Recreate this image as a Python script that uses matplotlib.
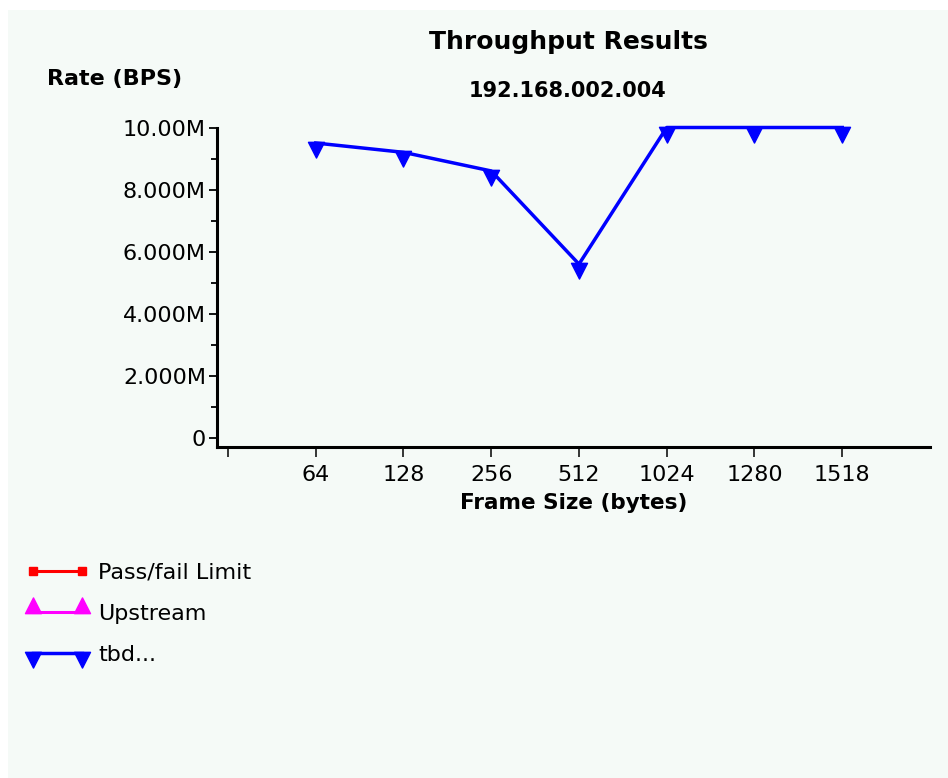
import numpy as np
import matplotlib
matplotlib.use("Agg")
import matplotlib.pyplot as plt
from matplotlib.path import Path
from matplotlib.patches import Rectangle
from matplotlib.legend_handler import HandlerLine2D

# ---- data ----
frame_sizes = ['64', '128', '256', '512', '1024', '1280', '1518']
tbd_rate = [9.5e6, 9.2e6, 8.6e6, 5.6e6, 10.0e6, 10.0e6, 10.0e6]
y_major = [0, 2e6, 4e6, 6e6, 8e6, 10e6]
y_major_labels = ['0', '2.000M', '4.000M', '6.000M', '8.000M', '10.00M']
y_minor = [1e6, 3e6, 5e6, 7e6, 9e6]
series_names = ['Pass/fail Limit', 'Upstream', 'tbd...']

plt.rcParams['font.family'] = ['DejaVu Sans']

W, H = 948, 778
fig = plt.figure(figsize=(W / 100, H / 100), dpi=100, facecolor='white')
bg = '#F5FAF7'
fig.patches.append(Rectangle((8 / W, 0), 1 - 8 / W, 1 - 10 / H, transform=fig.transFigure,
                             facecolor=bg, edgecolor='none', zorder=-10))

left, right, top, bottom = 217, 930, 127.5, 447
ax = fig.add_axes([left / W, 1 - bottom / H, (right - left) / W, (bottom - top) / H])
ax.set_facecolor('none')
ax.set_zorder(5)

down_tri = Path([(-0.55, 0.08), (0.55, 0.08), (0.0, -1.0), (-0.55, 0.08)],
                [Path.MOVETO, Path.LINETO, Path.LINETO, Path.CLOSEPOLY])
up_tri = Path([(-0.55, -0.08), (0.55, -0.08), (0.0, 1.0), (-0.55, -0.08)],
              [Path.MOVETO, Path.LINETO, Path.LINETO, Path.CLOSEPOLY])

xpos = np.arange(1, len(frame_sizes) + 1)
l_pf, = ax.plot([], [], color='#FF0000', lw=2.2, marker='s', ms=6, label=series_names[0])
l_up, = ax.plot([], [], color='#FF00FF', lw=2.2, marker=up_tri, ms=21, label=series_names[1])
l_tbd, = ax.plot(xpos, tbd_rate, color='#0000FF', lw=2.5, marker=down_tri, ms=21,
                 label=series_names[2], clip_on=False)

ax.set_xlim(-0.125, len(frame_sizes) + 1)
ax.set_ylim(-0.29e6, 10e6)
ax.set_xticks(np.arange(0, len(frame_sizes) + 1))
ax.set_xticklabels([''] + frame_sizes)
ax.set_yticks(y_major)
ax.set_yticklabels(y_major_labels)
ax.set_yticks(y_minor, minor=True)

for s in ['top', 'right']:
    ax.spines[s].set_visible(False)
for s in ['left', 'bottom']:
    ax.spines[s].set_linewidth(2.2)
    ax.spines[s].set_color('black')

ax.tick_params(axis='y', which='major', direction='out', length=6, width=1.3, pad=2,
               labelsize=16, colors='black')
ax.tick_params(axis='y', which='minor', direction='out', length=4.5, width=1.3)
ax.tick_params(axis='x', which='major', direction='out', length=7, width=1.1, pad=6,
               labelsize=16, colors='black')

ax.set_xlabel('Frame Size (bytes)', fontsize=15.5, fontweight='bold', labelpad=6)

fig.text(568 / W, 1 - 42 / H, 'Throughput Results', ha='center', va='center',
         fontsize=18, fontweight='bold')
fig.text(568 / W, 1 - 91 / H, '192.168.002.004', ha='center', va='center',
         fontsize=15, fontweight='bold')
fig.text(47 / W, 1 - 79 / H, 'Rate (BPS)', ha='left', va='center',
         fontsize=16, fontweight='bold')

hm = {l: HandlerLine2D(numpoints=2, marker_pad=0) for l in (l_pf, l_up, l_tbd)}
fig.legend(handles=[l_pf, l_up, l_tbd], loc='upper left',
           bbox_to_anchor=(33 / W, 1 - 563 / H), frameon=False, borderaxespad=0,
           borderpad=0, handlelength=2.2, handletextpad=0.72, labelspacing=0.95,
           fontsize=16, handler_map=hm)

fig.savefig('out.png', dpi=100, facecolor='white')
